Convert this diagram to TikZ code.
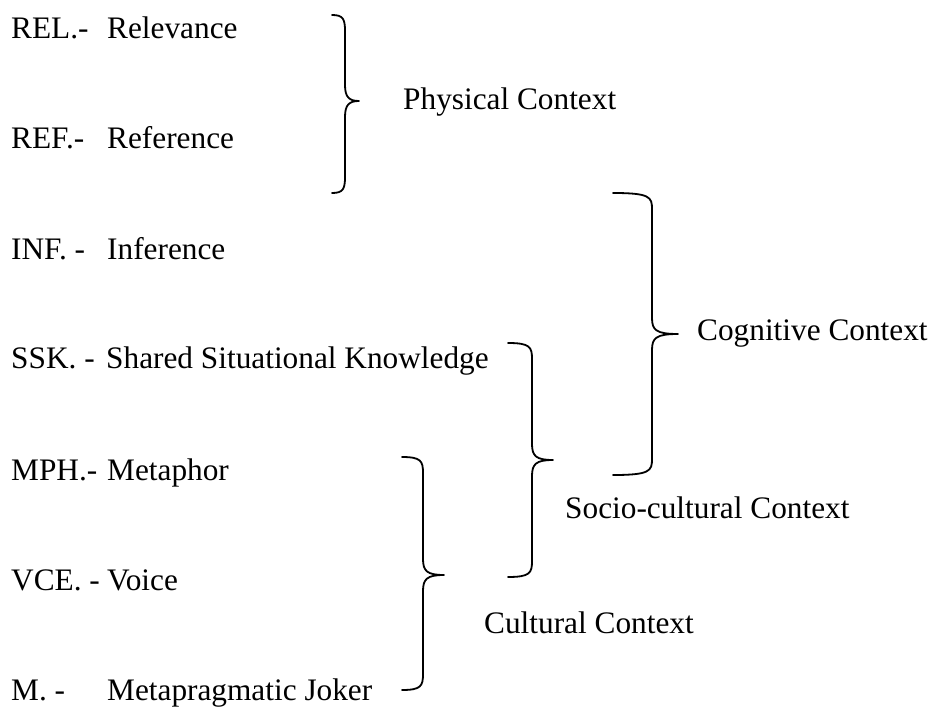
\documentclass[tikz,border=0pt]{standalone}
\usepackage{fontspec}
\setmainfont{Liberation Serif}
% curly brace: left end x, spine x, tip x, top y, middle y, bottom y (y grows downward)
\newcommand{\curlybrace}[6]{%
  \draw[bracestroke] (#1,#4) .. controls ({#2-2},#4) and (#2,{#4+4}) .. (#2,{#4+16})
    -- (#2,{#5-16}) .. controls (#2,{#5-4}) and ({#2+4},#5) .. (#3,#5)
    .. controls ({#2+4},#5) and (#2,{#5+4}) .. (#2,{#5+16})
    -- (#2,{#6-16}) .. controls (#2,{#6-4}) and ({#2-2},#6) .. (#1,#6);}
\begin{document}
\begin{tikzpicture}[x=1pt,y=-1pt,
  txt/.style={anchor=base west,inner sep=0pt,font=\fontsize{31.3}{36}\selectfont},
  bracestroke/.style={line width=1.8pt,line cap=round,line join=round}]
\useasboundingbox (0,0) rectangle (941,711);
% abbreviations and terms
\node[txt] (relA) at (11,39)  {REL.-};
\node[txt] (relB) at (107,39) {Relevance};
\node[txt] (refA) at (11,149) {REF.-};
\node[txt] (refB) at (107,149) {Reference};
\node[txt] (infA) at (11,259) {INF. -};
\node[txt] (infB) at (107,259) {Inference};
\node[txt] (sskA) at (11,368) {SSK. -};
\node[txt] (sskB) at (106,368) {Shared Situational Knowledge};
\node[txt] (mphA) at (11,480) {MPH.-};
\node[txt] (mphB) at (107,480) {Metaphor};
\node[txt] (vceA) at (11,590) {VCE. -};
\node[txt] (vceB) at (107,590) {Voice};
\node[txt] (mA)   at (11,700) {M. -};
\node[txt] (mB)   at (107,700) {Metapragmatic Joker};
% context labels
\node[txt] (phys) at (403,110) {Physical Context};
\node[txt] (cogn) at (697,340) {Cognitive Context};
\node[txt] (socio) at (565,518) {Socio-cultural Context};
\node[txt] (cult) at (484,633) {Cultural Context};
% grouping braces
\curlybrace{332}{345}{359}{15}{101}{193}
\curlybrace{613}{652}{678}{193}{334}{475}
\curlybrace{508}{532}{553}{343}{460}{577}
\curlybrace{402}{423}{444}{457}{575}{690}
\end{tikzpicture}
\end{document}
